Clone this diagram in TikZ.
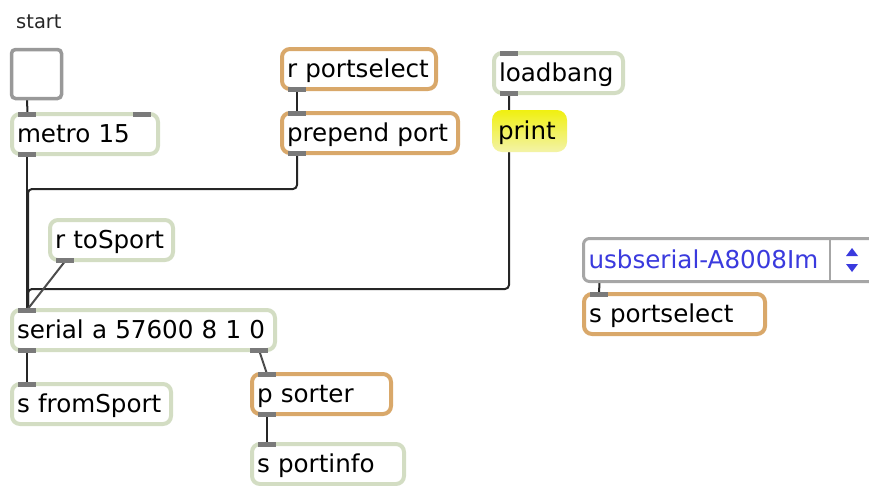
\documentclass[tikz,border=0pt]{standalone}
\usepackage{fontspec}
\setmainfont{DejaVu Sans}
\usetikzlibrary{backgrounds}

\definecolor{boxgreen}{HTML}{D3DDC3}
\definecolor{boxorange}{HTML}{D9A86A}
\definecolor{tabgray}{HTML}{7A7A7A}
\definecolor{menublue}{HTML}{3A3ADE}
\definecolor{printtop}{HTML}{F0F010}
\definecolor{printbot}{HTML}{F3F3A8}
\newcommand\objfont{\fontsize{24.6}{29}\selectfont}

\tikzset{
  obj/.style={draw=boxgreen, line width=4pt, rounded corners=8pt, fill=white,
    anchor=north west, outer sep=0pt, inner xsep=5pt, inner ysep=0pt,
    minimum height=40pt, align=left, text height=22.5pt, text depth=5pt, font=\objfont},
  subobj/.style={obj, draw=boxorange},
  tab/.style={fill=tabgray},
  cord/.style={draw=black!85, line width=2pt, rounded corners=4pt}
}

\begin{document}
\begin{tikzpicture}[x=1pt, y=-1pt]
  \useasboundingbox (0,0) rectangle (869,485);

  \node[anchor=base west, inner sep=0pt, text=black!85, font=\fontsize{19.5}{22}\selectfont] (start) at (16,28) {start};
  \node[draw=black!40, line width=3.5pt, rounded corners=4pt, anchor=north west, outer sep=0pt,
    minimum width=50pt, minimum height=49pt, fill=white] (tog) at (11.5,49.5) {};

  \foreach \n/\x/\y/\w/\t in {metro/12/114/136/metro 15, loadbang/494/53/119/loadbang,
      toSport/50/220/113/r toSport, serial/12/310/253/serial a 57600 8 1 0,
      fromSport/12/384/149/s fromSport, portinfo/252/444/142/s portinfo} {
    \node[obj, text width=\w pt] (\n) at (\x,\y) {\t};
  }
  \foreach \n/\x/\y/\w/\t in {rport/282/49/144/r portselect, prepend/282/113/166/prepend port,
      sorter/252/374/129/p sorter, sportsel/584/294/171/s portselect} {
    \node[subobj, text width=\w pt] (\n) at (\x,\y) {\t};
  }

  \node[obj, draw=none, top color=printtop, bottom color=printbot,
    inner xsep=6pt, minimum height=42pt, rounded corners=10pt, text width=63pt] (print) at (492,110) {print};

  % serial port menu
  \node[obj, draw=black!35, line width=3pt, rounded corners=6pt, inner xsep=5pt,
    minimum height=43pt, text width=290pt, text=menublue] (menu) at (583.5,238.5) {usbserial-A8008Im};
  \draw[black!35, line width=2pt] (830,239.5) -- (830,280.5);
  \fill[menublue] (852,248) -- (858,256) -- (846,256) -- cycle;
  \fill[menublue] (852,272) -- (858,264) -- (846,264) -- cycle;

  \foreach \n in {metro,prepend,loadbang,serial,fromSport,sorter,portinfo,sportsel} {
    \fill[tab] ([xshift=6pt,yshift=2.5pt]\n.north west) rectangle ++(18,5);
  }
  \foreach \n in {metro,rport,prepend,loadbang,toSport,serial,sorter} {
    \fill[tab] ([xshift=6pt,yshift=2.5pt]\n.south west) rectangle ++(18,5);
  }
  \fill[tab] ([xshift=-25pt,yshift=2.5pt]metro.north east) rectangle ++(18,5);
  \fill[tab] ([xshift=-25pt,yshift=2.5pt]serial.south east) rectangle ++(18,5);

  \begin{scope}[on background layer]
    \draw[cord] ([xshift=15.5pt]tog.south west) -- ([xshift=15.5pt]metro.north west);
    \draw[cord] ([xshift=15pt]metro.south west) -- ([xshift=15pt]serial.north west);
    \draw[cord] ([xshift=15pt]rport.south west) -- ([xshift=15pt]prepend.north west);
    \draw[cord] ([xshift=15pt]prepend.south west) -- ++(0,36) -| ([xshift=16pt]serial.north west);
    \draw[cord] ([xshift=15pt]loadbang.south west) -- ([xshift=17pt]print.north west);
    \draw[cord] ([xshift=15pt]loadbang.south west) -- ++(0,196) -| ([xshift=16pt]serial.north west);
    \draw[cord, black!70] ([xshift=16pt]toSport.south west) -- ([xshift=15pt]serial.north west);
    \draw[cord] ([xshift=15pt]serial.south west) -- ([xshift=15pt]fromSport.north west);
    \draw[cord, black!70] ([xshift=-16pt]serial.south east) -- ([xshift=15pt]sorter.north west);
    \draw[cord] ([xshift=15pt]sorter.south west) -- ([xshift=15pt]portinfo.north west);
    \draw[cord] ([xshift=16pt]menu.south west) -- ([xshift=15pt]sportsel.north west);
  \end{scope}
\end{tikzpicture}
\end{document}
